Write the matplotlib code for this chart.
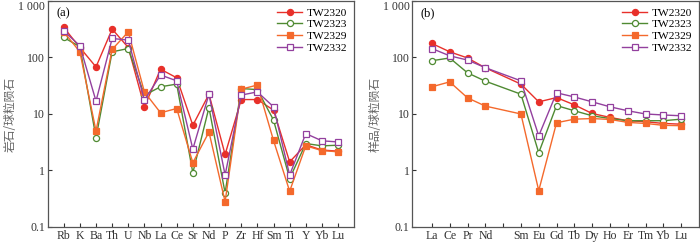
import matplotlib
matplotlib.use("Agg")
import matplotlib.pyplot as plt
import numpy as np
from matplotlib.ticker import FixedLocator, FixedFormatter, NullLocator

# ---- data ----
spider_elems = ["Rb", "K", "Ba", "Th", "U", "Nb", "La", "Ce", "Sr", "Nd", "P",
                "Zr", "Hf", "Sm", "Ti", "Y", "Yb", "Lu"]
spider_TW2320 = [340, 150, 68, 318, 150, 13.4, 62, 43.7, 6.3, 22.4, 1.92, 18.0, 18.0, 11.7, 1.42, 2.85, 2.3, 2.2]
spider_TW2323 = [226, 155, 3.8, 126, 144, 21.5, 30.3, 33.8, 0.91, 13.0, 0.40, 28.2, 27.0, 7.8, 0.72, 3.0, 2.73, 2.8]
spider_TW2329 = [284, 126, 5.0, 139, 284, 24.5, 10.5, 12.5, 1.37, 4.8, 0.28, 27.5, 32.5, 3.4, 0.43, 2.73, 2.25, 2.14]
spider_TW2332 = [296, 161, 16.9, 217, 203, 17.6, 49, 38.6, 2.39, 22.4, 0.83, 21.6, 24.6, 13.4, 0.83, 4.5, 3.35, 3.2]

ree_ticks = ["La", "Ce", "Pr", "Nd", "", "Sm", "Eu", "Gd", "Tb", "Dy", "Ho", "Er", "Tm", "Yb", "Lu"]
ree_elems = ["La", "Ce", "Pr", "Nd", "Sm", "Eu", "Gd", "Tb", "Dy", "Ho", "Er", "Tm", "Yb", "Lu"]
ree_TW2320 = [177, 126, 98, 65.6, 33.8, 16.4, 19.5, 14.5, 10.2, 8.7, 7.6, 7.3, 6.8, 6.6]
ree_TW2323 = [87.6, 98, 53.5, 38.1, 22.4, 2.06, 14.1, 11.4, 9.3, 8.3, 7.6, 7.6, 7.6, 8.1]
ree_TW2329 = [30.3, 37, 19.3, 13.8, 10.0, 0.44, 7.0, 8.1, 8.3, 8.0, 7.1, 6.8, 6.3, 6.2]
ree_TW2332 = [144, 107, 90, 66, 38.6, 4.1, 23.7, 20.0, 16.4, 13.4, 11.4, 10.0, 9.6, 9.3]

y_ticks = [0.1, 1, 10, 100, 1000]
y_ticklabels = ["0.1", "1", "10", "100", "1 000"]

samples = ["TW2320", "TW2323", "TW2329", "TW2332"]
colors = ["#e8302a", "#4f8a32", "#f4692c", "#93409e"]
markers = ["o", "o", "s", "s"]
filled = [True, False, True, False]

plt.rcParams["font.family"] = ["Liberation Serif", "Noto Sans CJK SC", "DejaVu Sans"]
plt.rcParams["font.size"] = 8

fig = plt.figure(figsize=(7.0, 2.42), dpi=100)
axa = fig.add_axes([0.068, 0.062, 0.438, 0.934])
axb = fig.add_axes([0.589, 0.062, 0.4096, 0.934])

spider_sets = [spider_TW2320, spider_TW2323, spider_TW2329, spider_TW2332]
ree_sets = [ree_TW2320, ree_TW2323, ree_TW2329, ree_TW2332]

xa = np.arange(len(spider_elems))
ree_pos = [i for i, t in enumerate(ree_ticks) if t != ""]


def draw(ax, x, sets):
    for vals, c, m, f, s in zip(sets, colors, markers, filled, samples):
        ax.plot(x, vals, color=c, lw=1.0, marker=m, ms=4.4 if m == "o" else 4.6,
                markerfacecolor=c if f else "white", markeredgecolor=c,
                markeredgewidth=0.9, label=s)


draw(axa, xa, spider_sets)
draw(axb, ree_pos, ree_sets)

for ax in (axa, axb):
    ax.set_yscale("log")
    ax.set_ylim(0.1, 1000)
    ax.yaxis.set_major_locator(FixedLocator(y_ticks))
    ax.yaxis.set_major_formatter(FixedFormatter(y_ticklabels))
    ax.yaxis.set_minor_locator(NullLocator())
    ax.tick_params(axis="both", direction="in", length=3, width=0.8, colors="#333333",
                   labelsize=8.5, pad=2)
    for sp in ax.spines.values():
        sp.set_color("#555555")
        sp.set_linewidth(0.9)
    ax.legend(loc="upper right", frameon=False, fontsize=8.2, handlelength=2.2,
              handletextpad=0.4, labelspacing=0.15, borderaxespad=0.2)

axa.set_xlim(-1, len(spider_elems))
axa.set_xticks(xa)
axa.set_xticklabels(spider_elems)
axb.set_xlim(-1.1, len(ree_ticks))
axb.set_xticks(np.arange(len(ree_ticks)))
axb.set_xticklabels(ree_ticks)

axa.set_ylabel("岩石/球粒陨石", color="#666666", fontsize=8.5, labelpad=1,
               family=["Noto Sans CJK SC"])
axb.set_ylabel("样品/球粒陨石", color="#666666", fontsize=8.5, labelpad=1,
               family=["Noto Sans CJK SC"])

axa.text(0.03, 0.97, "(a)", transform=axa.transAxes, ha="left", va="top", fontsize=9)
axb.text(0.03, 0.97, "(b)", transform=axb.transAxes, ha="left", va="top", fontsize=9)

fig.canvas.draw()
for ax in (axa, axb):
    labs = ax.get_yticklabels()
    labs[-1].set_verticalalignment("top")

fig.savefig("out.png", dpi=100)
